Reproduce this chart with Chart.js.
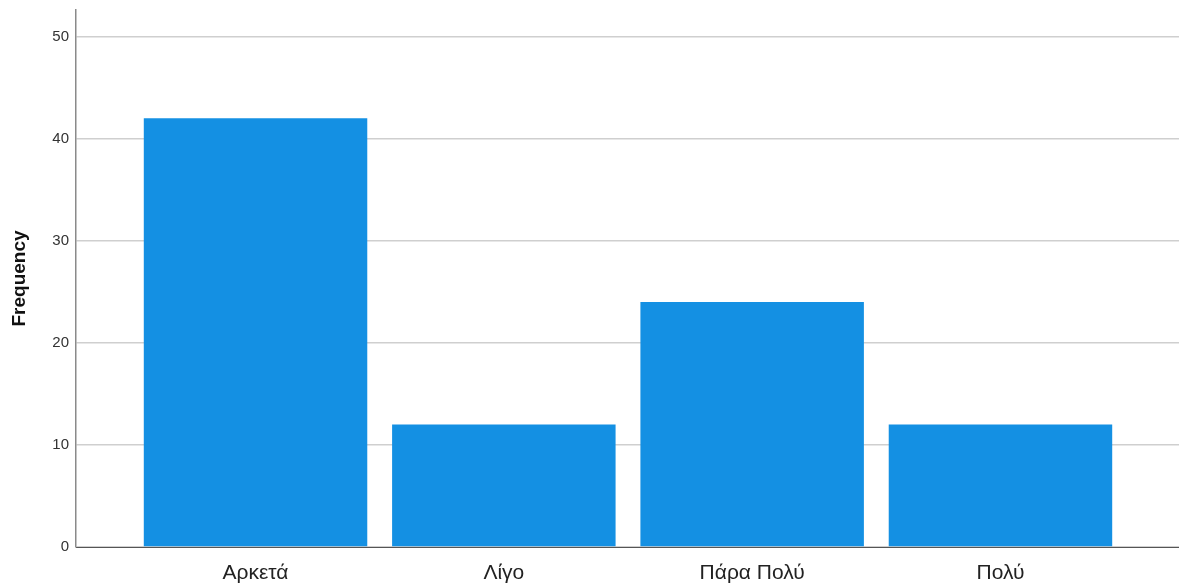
<!DOCTYPE html>
<html>
<head>
<meta charset="utf-8">
<script src="https://cdn.jsdelivr.net/npm/chart.js@4.4.1/dist/chart.umd.min.js"></script>
<style>
  html, body { margin: 0; padding: 0; background: #ffffff; }
  #wrap { width: 1179px; height: 584px; position: relative; }
</style>
</head>
<body>
<div id="wrap"><canvas id="c" width="1179" height="584"></canvas></div>
<script>
// Response categories and their counts
const categories = ['Αρκετά', 'Λίγο', 'Πάρα Πολύ', 'Πολύ'];
const frequencies = [42, 12, 24, 12];
const yTicks = [0, 10, 20, 30, 40, 50];

const points = categories.map((c, i) => ({ x: i, y: frequencies[i] }));

new Chart(document.getElementById('c'), {
  type: 'bar',
  data: {
    datasets: [{
      data: points,
      backgroundColor: '#1490e3',
      borderWidth: 0,
      barPercentage: 0.9,
      categoryPercentage: 1.0
    }]
  },
  options: {
    responsive: false,
    animation: false,
    layout: { padding: { top: 10, right: 0, left: 0, bottom: 0 } },
    plugins: { legend: { display: false }, tooltip: { enabled: false }, title: { display: false } },
    scales: {
      x: {
        type: 'linear',
        offset: false,
        min: -0.723,
        max: 3.719,
        afterFit: s => { s.height = 37; s.paddingLeft = 0; s.paddingRight = 0; },
        afterBuildTicks: s => { s.ticks = categories.map((c, i) => ({ value: i })); },
        grid: { display: false, drawTicks: false },
        border: { display: true, color: '#555555', width: 1 },
        ticks: {
          callback: v => categories[v],
          color: '#222222',
          font: { family: 'Liberation Sans, Arial, sans-serif', size: 21 },
          padding: 14,
          maxRotation: 0,
          autoSkip: false
        }
      },
      y: {
        min: 0,
        max: 52.6,
        afterFit: s => { s.width = 76; s.paddingTop = 0; s.paddingBottom = 0; },
        afterBuildTicks: s => { s.ticks = yTicks.map(v => ({ value: v })); },
        grid: { color: '#cfcfcf', lineWidth: 1.5, drawTicks: false },
        border: { display: true, color: '#8a8a8a', width: 1.5 },
        ticks: {
          color: '#333333',
          font: { family: 'Liberation Sans, Arial, sans-serif', size: 15 },
          padding: 7
        },
        title: {
          display: true,
          text: 'Frequency',
          color: '#111111',
          font: { family: 'Liberation Sans, Arial, sans-serif', size: 19, weight: 'bold' },
          padding: { top: 8, bottom: 0 }
        }
      }
    }
  }
});
</script>
</body>
</html>
